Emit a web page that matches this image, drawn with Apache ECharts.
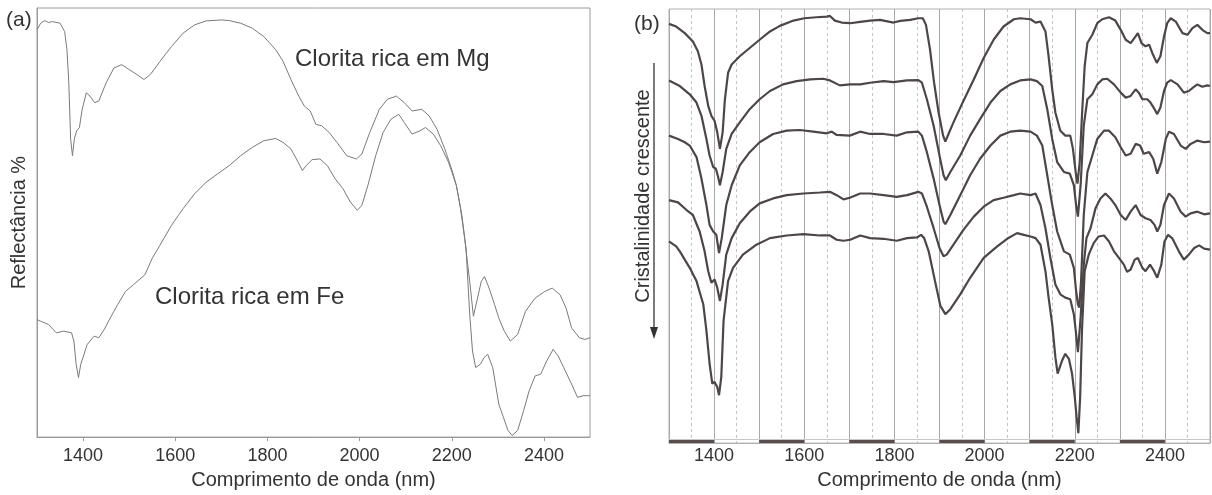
<!DOCTYPE html>
<html><head><meta charset="utf-8">
<script src="https://cdn.jsdelivr.net/npm/echarts@6/dist/echarts.min.js"></script>
<style>html,body{margin:0;padding:0;background:#fff}#c{width:1212px;height:495px}</style>
</head><body><div id="c"></div>
<script>
// ---------- Panel (a) ----------
var mgNm = [1300,1308,1317,1325,1333,1350,1360,1365,1369,1373,1377,1381,1386,1392,1398,1407,1415,1425,1434,1450,1467,1484,1500,1517,1532,1546,1567,1592,1617,1642,1667,1701,1717,1742,1767,1792,1818,1834,1851,1868,1880,1893,1905,1918,1934,1951,1972,1993,2005,2022,2043,2060,2080,2097,2114,2135,2151,2168,2185,2202,2210,2218,2228,2239,2247,2256,2264,2271,2281,2293,2302,2314,2327,2343,2360,2381,2402,2418,2435,2448,2460,2477,2489,2500];
var mgVal = [1230,1250,1258,1252,1255,1250,1225,1170,1070,900,850,900,925,935,990,1040,1030,1010,1015,1070,1115,1125,1110,1095,1080,1095,1135,1180,1220,1245,1257,1260,1258,1250,1235,1210,1170,1135,1080,1030,1000,985,945,940,920,890,850,840,855,920,990,1020,1030,1010,985,990,970,930,870,800,760,700,600,470,365,420,470,485,450,400,360,320,290,310,380,420,440,450,430,390,330,300,295,300];
var feNm = [1300,1308,1325,1342,1358,1375,1380,1385,1390,1395,1409,1424,1434,1446,1459,1475,1492,1509,1534,1550,1567,1592,1617,1642,1667,1692,1717,1742,1767,1792,1818,1834,1851,1863,1876,1884,1897,1914,1930,1947,1964,1980,1995,2005,2018,2035,2051,2068,2085,2097,2114,2131,2143,2160,2176,2193,2210,2222,2231,2239,2245,2252,2262,2270,2278,2289,2302,2312,2322,2331,2343,2356,2368,2381,2393,2406,2420,2431,2443,2460,2473,2485,2500];
var feVal = [355,350,340,315,320,315,290,220,180,220,280,305,300,325,360,400,440,460,490,540,580,640,690,735,770,795,820,850,875,895,902,890,870,840,805,820,838,840,820,780,750,710,685,700,760,850,920,960,975,950,915,925,935,915,880,830,760,670,570,370,260,210,220,240,250,210,100,60,20,5,20,80,140,185,190,230,265,245,210,160,120,125,125];
var tickLabelsA = [1400,1600,1800,2000,2200,2400];

// ---------- Panel (b) ----------
var b1Nm = [1300,1316,1335,1353,1364,1372,1379,1387,1394,1401,1407,1413,1419,1424,1431,1439,1457,1479,1501,1524,1546,1576,1600,1627,1650,1657,1668,1683,1702,1724,1746,1768,1787,1798,1813,1835,1853,1863,1870,1879,1888,1898,1908,1913,1920,1931,1953,1976,1998,2020,2042,2065,2079,2102,2113,2124,2135,2142,2150,2157,2168,2179,2190,2196,2202,2206,2211,2216,2222,2228,2239,2250,2261,2276,2290,2302,2313,2324,2335,2340,2348,2357,2365,2372,2382,2390,2398,2405,2413,2424,2439,2450,2461,2472,2483,2494,2500];
var b1Val = [1268,1260,1240,1215,1185,1145,1080,1020,990,975,940,890,940,1040,1120,1145,1170,1195,1220,1245,1262,1278,1285,1288,1290,1292,1278,1272,1270,1274,1278,1280,1275,1272,1277,1280,1285,1285,1265,1190,1090,1000,930,912,935,970,1035,1100,1165,1220,1260,1282,1285,1282,1272,1275,1245,1170,1070,1000,945,930,930,890,820,785,850,990,1140,1210,1235,1270,1282,1288,1278,1250,1220,1210,1230,1240,1210,1200,1205,1180,1150,1170,1230,1270,1285,1275,1240,1235,1255,1265,1250,1240,1240];
var b2Nm = [1300,1324,1346,1361,1372,1383,1390,1398,1404,1409,1413,1419,1427,1439,1457,1479,1501,1524,1553,1583,1613,1642,1657,1679,1702,1724,1746,1776,1798,1828,1853,1861,1872,1887,1900,1909,1914,1924,1946,1968,1990,2013,2035,2057,2079,2102,2116,2128,2139,2150,2161,2176,2189,2198,2203,2207,2213,2220,2228,2239,2250,2261,2272,2287,2302,2313,2324,2335,2342,2350,2361,2368,2377,2383,2390,2398,2405,2413,2428,2442,2453,2465,2472,2483,2494,2500];
var b2Val = [1097,1080,1055,1030,990,920,870,835,830,805,780,820,890,935,970,1010,1040,1065,1085,1095,1100,1102,1097,1082,1085,1085,1090,1095,1092,1097,1098,1090,1040,960,870,810,795,820,870,930,980,1030,1065,1085,1097,1100,1095,1080,1010,920,850,820,815,780,720,685,780,960,1040,1055,1085,1100,1102,1085,1060,1045,1050,1070,1060,1040,1040,1030,1010,995,1015,1065,1090,1098,1085,1060,1065,1078,1085,1078,1082,1080];
var b3Nm = [1300,1320,1335,1346,1361,1372,1383,1390,1398,1405,1411,1417,1427,1439,1457,1479,1501,1531,1561,1590,1620,1650,1661,1672,1701,1724,1746,1776,1805,1828,1853,1861,1872,1887,1900,1909,1913,1924,1946,1968,1990,2013,2035,2057,2079,2102,2116,2128,2139,2150,2161,2176,2189,2198,2203,2207,2210,2214,2220,2228,2239,2250,2265,2276,2290,2302,2313,2324,2335,2345,2353,2365,2374,2383,2392,2402,2409,2420,2435,2446,2457,2472,2487,2500];
var b3Val = [930,920,910,900,865,800,720,660,640,630,575,620,720,780,840,880,910,935,945,947,942,937,942,932,930,942,935,935,930,940,942,930,880,800,720,670,662,690,750,810,860,900,930,942,945,942,930,900,810,720,640,580,570,530,460,420,410,490,690,820,870,920,945,945,925,895,870,875,905,900,875,880,860,815,850,920,942,935,900,890,905,915,910,912];
var b4Nm = [1300,1320,1339,1353,1368,1379,1387,1394,1401,1407,1413,1419,1427,1439,1457,1479,1501,1531,1561,1598,1635,1657,1672,1687,1701,1724,1746,1776,1805,1828,1853,1861,1872,1887,1900,1909,1916,1931,1953,1976,1998,2020,2042,2065,2079,2102,2113,2124,2135,2146,2157,2168,2179,2190,2198,2203,2207,2213,2220,2226,2235,2246,2257,2268,2279,2290,2302,2313,2324,2335,2346,2357,2368,2377,2383,2390,2398,2409,2420,2435,2446,2457,2472,2487,2500];
var b4Val = [735,728,705,690,640,580,520,485,495,470,430,480,570,620,665,700,725,740,750,755,758,760,750,737,742,755,755,750,745,750,760,755,715,650,590,565,570,600,645,685,715,735,742,750,755,750,755,720,650,560,480,450,440,435,390,330,275,380,540,620,650,710,740,755,740,720,690,675,700,720,690,680,675,660,640,660,720,755,740,700,685,695,700,692,695];
var b5Nm = [1300,1316,1324,1346,1361,1376,1383,1390,1396,1401,1407,1411,1416,1421,1431,1442,1464,1494,1524,1561,1598,1635,1657,1672,1687,1702,1724,1746,1776,1805,1828,1850,1859,1866,1876,1890,1902,1913,1924,1946,1968,1998,2028,2050,2072,2087,2102,2113,2124,2135,2142,2150,2157,2162,2172,2179,2187,2194,2200,2204,2208,2212,2216,2222,2231,2242,2253,2265,2276,2287,2298,2309,2316,2324,2333,2340,2350,2357,2367,2376,2383,2392,2399,2407,2416,2431,2442,2453,2465,2476,2487,2500];
var b5Val = [610,595,580,530,490,420,340,240,180,185,170,145,200,370,490,530,570,600,620,628,632,628,628,615,612,615,628,620,618,612,620,622,630,620,580,490,415,390,405,450,500,560,595,618,635,630,625,620,600,520,440,360,260,210,250,270,255,210,140,80,30,140,340,520,570,605,625,628,610,580,560,540,518,525,555,560,530,520,540,520,500,540,610,630,620,580,555,570,590,598,588,585];
var tickLabelsB = [1400,1600,1800,2000,2200,2400];
var scaleBarStarts = [1300,1500,1700,1900,2100,2300];
var scaleBarWidth = 100;

function pairs(xs, ys){ return xs.map(function(x,i){ return [x, ys[i]]; }); }
function plain(v){ return String(v); }

var FONT = '"Liberation Sans", Arial, sans-serif';
var chart = echarts.init(document.getElementById('c'), null, {renderer:'canvas'});

var lineA = {color:'#7a7a7a', width:1};
var lineB = {color:'#4e4646', width:2.2};

var barAreas = scaleBarStarts.map(function(s){
  return [{xAxis:s, yAxis:0},{xAxis:s+scaleBarWidth, yAxis:9}];
});

chart.setOption({
  animation:false,
  textStyle:{fontFamily:FONT},
  grid:[
    {left:37, top:8, width:553, height:432, show:true, borderColor:'#9a9a9a', borderWidth:1, backgroundColor:'transparent'},
    {left:669, top:9, width:541, height:438, show:true, borderColor:'#b0b0b0', borderWidth:1, backgroundColor:'transparent'}
  ],
  xAxis:[
    {gridIndex:0, type:'value', min:1300, max:2500, interval:100,
     axisLine:{show:true, lineStyle:{color:'#9a9a9a'}},
     axisTick:{show:true, length:4, customValues:tickLabelsA, lineStyle:{color:'#9a9a9a'}},
     axisLabel:{customValues:tickLabelsA, formatter:plain, color:'#333', fontSize:18, margin:10, fontFamily:FONT},
     splitLine:{show:false},
     name:'Comprimento de onda (nm)', nameLocation:'middle', nameGap:31,
     nameTextStyle:{color:'#333', fontSize:20, fontFamily:FONT}},
    {gridIndex:1, type:'value', min:1300, max:2500, interval:100,
     axisLine:{show:true, lineStyle:{color:'#b0b0b0'}},
     axisTick:{show:false},
     axisLabel:{customValues:tickLabelsB, formatter:plain, color:'#333', fontSize:18, margin:4, fontFamily:FONT},
     splitLine:{show:true, lineStyle:{color:'#a8a8a8', width:1}},
     minorTick:{show:false, splitNumber:2},
     minorSplitLine:{show:true, lineStyle:{color:'#c4c4c4', width:1, type:[3,3]}},
     name:'Comprimento de onda (nm)', nameLocation:'middle', nameGap:24,
     nameTextStyle:{color:'#333', fontSize:20, fontFamily:FONT}}
  ],
  yAxis:[
    {gridIndex:0, type:'value', min:0, max:1296,
     axisLine:{show:true, lineStyle:{color:'#9a9a9a'}}, axisTick:{show:false}, axisLabel:{show:false}, splitLine:{show:false},
     name:'Reflectância %', nameLocation:'middle', nameGap:8,
     nameTextStyle:{color:'#333', fontSize:20, fontFamily:FONT}},
    {gridIndex:1, type:'value', min:0, max:1313,
     axisLine:{show:false}, axisTick:{show:false}, axisLabel:{show:false}, splitLine:{show:false}}
  ],
  series:[
    {type:'line', xAxisIndex:0, yAxisIndex:0, data:pairs(mgNm, mgVal), showSymbol:false, lineStyle:lineA, silent:true},
    {type:'line', xAxisIndex:0, yAxisIndex:0, data:pairs(feNm, feVal), showSymbol:false, lineStyle:lineA, silent:true},
    {type:'line', xAxisIndex:1, yAxisIndex:1, data:pairs(b1Nm, b1Val), showSymbol:false, lineStyle:lineB, silent:true,
     markArea:{silent:true, itemStyle:{color:'#5a4d4d'}, data:barAreas},
     markLine:{silent:true, symbol:'none', label:{show:false}, lineStyle:{color:'#c8c8c8', width:1, type:'solid'}, data:[{yAxis:13}]}},
    {type:'line', xAxisIndex:1, yAxisIndex:1, data:pairs(b2Nm, b2Val), showSymbol:false, lineStyle:lineB, silent:true},
    {type:'line', xAxisIndex:1, yAxisIndex:1, data:pairs(b3Nm, b3Val), showSymbol:false, lineStyle:lineB, silent:true},
    {type:'line', xAxisIndex:1, yAxisIndex:1, data:pairs(b4Nm, b4Val), showSymbol:false, lineStyle:lineB, silent:true},
    {type:'line', xAxisIndex:1, yAxisIndex:1, data:pairs(b5Nm, b5Val), showSymbol:false, lineStyle:lineB, silent:true}
  ],
  graphic:[
    {type:'text', x:6, y:20, style:{text:'(a)', font:'21px '+FONT, fill:'#333', verticalAlign:'middle', align:'left'}},
    {type:'text', x:634, y:24, style:{text:'(b)', font:'21px '+FONT, fill:'#333', verticalAlign:'middle', align:'left'}},
    {type:'text', x:295, y:59, style:{text:'Clorita rica em Mg', font:'24px '+FONT, fill:'#333', verticalAlign:'middle', align:'left'}},
    {type:'text', x:155, y:297, style:{text:'Clorita rica em Fe', font:'24px '+FONT, fill:'#333', verticalAlign:'middle', align:'left'}},
    {type:'text', x:643, y:196, rotation:Math.PI/2, style:{text:'Cristalinidade crescente', font:'20px '+FONT, fill:'#333', verticalAlign:'middle', align:'center'}},
    {type:'line', shape:{x1:654, y1:63, x2:654, y2:330}, style:{stroke:'#333', lineWidth:1.3}},
    {type:'polygon', shape:{points:[[650,327],[658,327],[654,339]]}, style:{fill:'#333'}}
  ]
});
</script></body></html>
